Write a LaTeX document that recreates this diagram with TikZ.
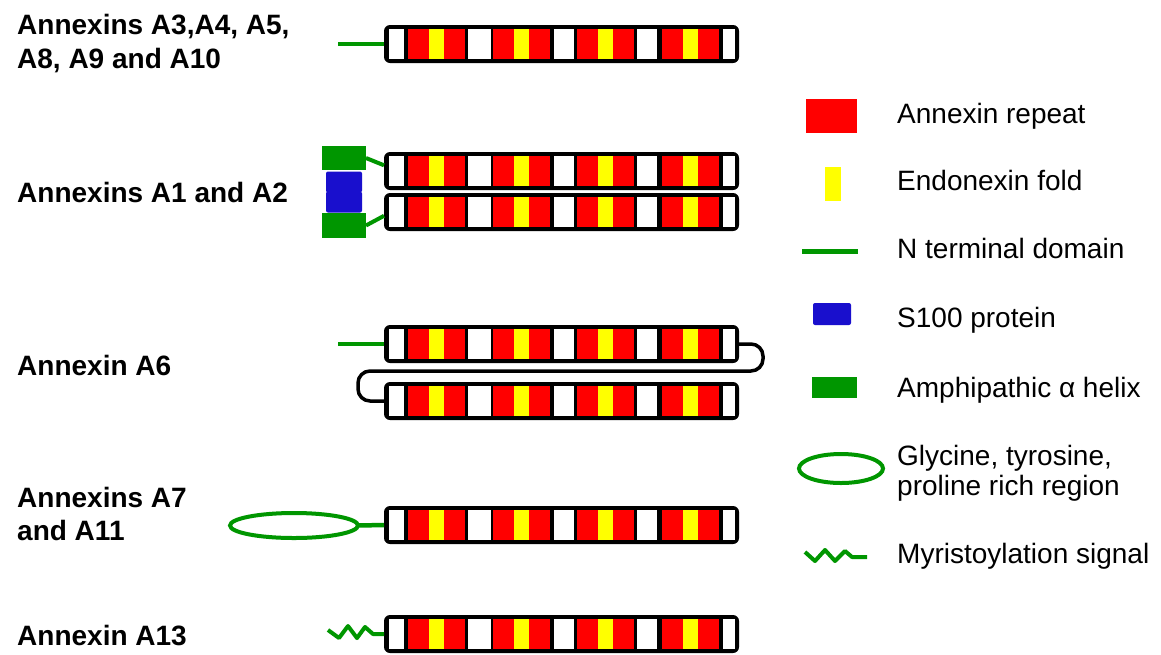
\documentclass[tikz,border=0pt]{standalone}
\usepackage{fontspec}
\setmainfont{Liberation Sans}
\usetikzlibrary{shapes.geometric,calc}
\definecolor{agreen}{RGB}{0,150,0}
\definecolor{ablue}{RGB}{25,15,205}
\definecolor{ared}{RGB}{255,0,0}
\definecolor{ayellow}{RGB}{255,255,0}
\tikzset{
  barbox/.style={fill=black,draw=none,rounded corners=6pt,minimum width=355pt,minimum height=38pt,inner sep=0pt,outer sep=0pt},
  lab/.style={anchor=base west,inner sep=0pt,font=\fontsize{28}{34}\selectfont\bfseries},
  leg/.style={anchor=base west,inner sep=0pt,font=\fontsize{28}{34}\selectfont},
  nterm/.style={draw=agreen,line width=4.5pt},
  loopline/.style={draw=black,line width=3.5pt},
  helix/.style={fill=agreen,draw=none,inner sep=0pt,outer sep=0pt},
  sprot/.style={fill=ablue,draw=none,inner sep=0pt,outer sep=0pt,rounded corners=2pt},
  gyp/.style={ellipse,draw=agreen,line width=4pt,inner sep=0pt,outer sep=0pt},
}
\newcommand\annbar[3]{%
  \node[barbox,anchor=north west] (#1) at (#2,#3) {};
  \begin{scope}[shift={(#1.north west)}]
    \foreach \wa/\wb in {5/20,84/107,170/190,253/273,339/351}
      \fill[white] (\wa,4) rectangle (\wb,34);
    \foreach \rr in {24,109,193,278} {
      \fill[ared] (\rr,4) rectangle ({\rr+57},34);
      \fill[ayellow] ({\rr+21},4) rectangle ({\rr+36},34);
    }
  \end{scope}}
\begin{document}
\begin{tikzpicture}[x=1pt,y=-1pt]
\useasboundingbox[fill=white] (0,0) rectangle (1161,654);

% ---- labels
\node[lab] (t1) at (17,34) {\begin{tabular}[t]{@{}l@{}}Annexins A3,A4, A5,\\A8, A9 and A10\end{tabular}};
\node[lab] (t2) at (17,202) {Annexins A1 and A2};
\node[lab] (t6) at (17,375) {Annexin A6};
\node[lab,font=\fontsize{28}{33}\selectfont\bfseries] (t7) at (17,507) {\begin{tabular}[t]{@{}l@{}}Annexins A7\\and A11\end{tabular}};
\node[lab] (t13) at (17,645) {Annexin A13};

% ---- bars
\annbar{b1}{384}{25}
\annbar{b2}{384}{152}
\annbar{b3}{384}{193}
\annbar{b6a}{384}{325}
\annbar{b6b}{384}{382}
\annbar{b7}{384}{506}
\annbar{b13}{384}{615}

% ---- A3..A10
\coordinate (n1) at (338,44);
\draw[nterm] (n1) -- (b1.west);

% ---- A1/A2
\node[helix,minimum width=44pt,minimum height=24pt] (hT) at (344,158) {};
\node[sprot,minimum width=36pt,minimum height=21pt] (sA) at (344,182) {};
\node[sprot,minimum width=36pt,minimum height=21pt] (sB) at (344,202) {};
\node[helix,minimum width=44pt,minimum height=25pt] (hB) at (344,225.5) {};
\draw[nterm,line width=4pt] (hT.east) -- ($(b2.north west)!0.35!(b2.south west)$);
\draw[nterm,line width=4pt] (hB.east) -- ($(b3.north west)!0.6!(b3.south west)$);

% ---- A6
\coordinate (n6) at (338,344);
\draw[nterm] (n6) -- (b6a.west);
\draw[loopline,rounded corners=12pt] (b6a.east) -- (763,344) -- (763,371) -- (358,371) -- (358,401) -- (b6b.west);

% ---- A7/A11
\node[gyp,minimum width=128pt,minimum height=25pt] (g7) at (294,525.5) {};
\draw[nterm] (g7.east) -- (b7.west);

% ---- A13
\coordinate (m13) at (328,630);
\draw[nterm,line width=4pt,line join=round] (m13) -- (339,638) -- (348,626) -- (357,638) -- (365,627) -- (373,634) -- (b13.west);

% ---- legend
\node[fill=ared,inner sep=0pt,minimum width=51pt,minimum height=34pt] (kr) at (831.5,116) {};
\node[fill=ayellow,inner sep=0pt,minimum width=16pt,minimum height=34pt] (ky) at (833,184) {};
\coordinate (kn1) at (802,251);
\coordinate (kn2) at (858,251);
\draw[nterm,line width=5pt] (kn1) -- (kn2);
\node[sprot,minimum width=38pt,minimum height=22pt] (ks) at (832,314) {};
\node[helix,minimum width=45pt,minimum height=21pt] (kh) at (834.5,387.5) {};
\node[gyp,minimum width=84pt,minimum height=29pt] (kg) at (841,468.5) {};
\coordinate (km1) at (805,552);
\coordinate (km2) at (867,557);
\draw[nterm,line width=4pt,line join=round] (km1) -- (815,561) -- (825,550) -- (835,561) -- (845,551) -- (852,557) -- (km2);

\node[leg] (kt1) at (897,123) {Annexin repeat};
\node[leg] (kt2) at (897,190) {Endonexin fold};
\node[leg] (kt3) at (897,258) {N terminal domain};
\node[leg] (kt4) at (897,327) {S100 protein};
\node[leg] (kt5) at (897,397) {Amphipathic α helix};
\node[leg,font=\fontsize{28}{30}\selectfont] (kt6) at (897,465) {\begin{tabular}[t]{@{}l@{}}Glycine, tyrosine,\\proline rich region\end{tabular}};
\node[leg] (kt7) at (897,563) {Myristoylation signal};
\end{tikzpicture}
\end{document}
